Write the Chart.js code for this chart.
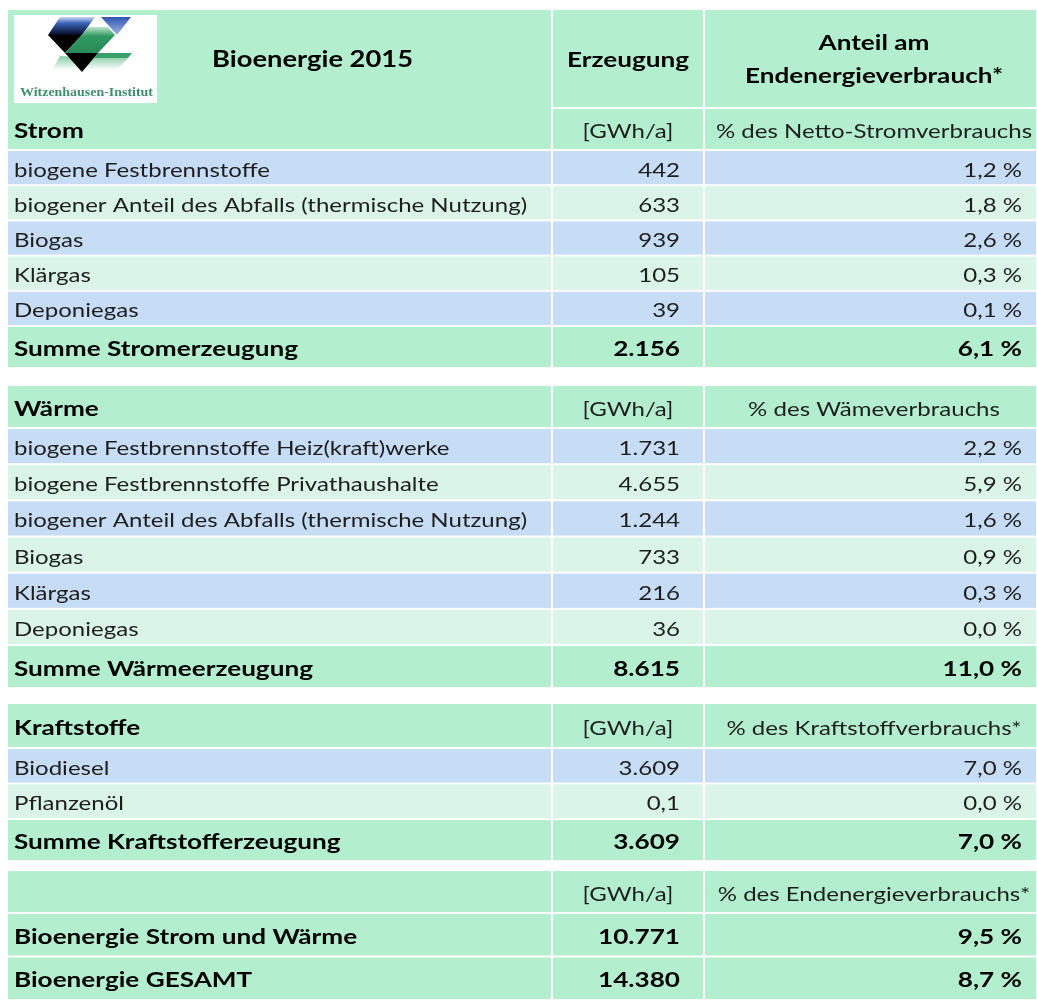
<!DOCTYPE html>
<html>
<head>
<meta charset="utf-8">
<script src="https://cdn.jsdelivr.net/npm/chart.js@4.4.0/dist/chart.umd.min.js"></script>
<style>
  html, body { margin: 0; padding: 0; background: #fff; }
  canvas { display: block; }
</style>
</head>
<body>
<canvas id="myChart" width="1037" height="1000"></canvas>
<script>
// --- data ---
var title = "Bioenergie 2015";
var colHeads = ["Erzeugung", "Anteil am", "Endenergieverbrauch*"];
var unitGWh = "[GWh/a]";

var stromLabels = ["biogene Festbrennstoffe", "biogener Anteil des Abfalls (thermische Nutzung)", "Biogas", "Klärgas", "Deponiegas"];
var stromGWh = [442, 633, 939, 105, 39];
var stromShare = [1.2, 1.8, 2.6, 0.3, 0.1];

var waermeLabels = ["biogene Festbrennstoffe Heiz(kraft)werke", "biogene Festbrennstoffe Privathaushalte", "biogener Anteil des Abfalls (thermische Nutzung)", "Biogas", "Klärgas", "Deponiegas"];
var waermeGWh = [1731, 4655, 1244, 733, 216, 36];
var waermeShare = [2.2, 5.9, 1.6, 0.9, 0.3, 0.0];

var kraftLabels = ["Biodiesel", "Pflanzenöl"];
var kraftGWh = [3609, 0.1];
var kraftShare = [7.0, 0.0];

var sectionTitles = ["Strom", "Wärme", "Kraftstoffe", ""];
var sectionUnits = ["% des Netto-Stromverbrauchs", "% des Wämeverbrauchs", "% des Kraftstoffverbrauchs*", "% des Endenergieverbrauchs*"];
var sumLabels = ["Summe Stromerzeugung", "Summe Wärmeerzeugung", "Summe Kraftstofferzeugung"];
var sumGWh = [2156, 8615, 3609];
var sumShare = [6.1, 11.0, 7.0];

var totalLabels = ["Bioenergie Strom und Wärme", "Bioenergie GESAMT"];
var totalGWh = [10771, 14380];
var totalShare = [9.5, 8.7];

// --- layout / style ---
var GREEN = "#b3efcf";
var BLUE = "#c7dcf5";
var LIGHT = "#daf5e7";
var colEdges = [8, 552, 704, 1036];
var tableTop = 10;
var headerBottom = 108;
var sectionBox = [
  { top: 108, bottom: 368, titleH: 42, sumH: 42 },
  { top: 385, bottom: 688, titleH: 43, sumH: 43 },
  { top: 703, bottom: 861, titleH: 45, sumH: 42 },
  { top: 870, bottom: 1000, titleH: 43, sumH: 0 }
];
var FONT = "Lato, 'Open Sans', sans-serif";

// build table rows from the arrays
var labelSets = [stromLabels, waermeLabels, kraftLabels, totalLabels];
var gwhSets = [stromGWh, waermeGWh, kraftGWh, totalGWh];
var shareSets = [stromShare, waermeShare, kraftShare, totalShare];

var rows = [];
for (var s = 0; s < 4; s++) {
  var box = sectionBox[s];
  rows.push({ kind: "title", y0: box.top, y1: box.top + box.titleH, label: sectionTitles[s], unit: sectionUnits[s], first: s === 0 });
  var n = labelSets[s].length;
  var h = (box.bottom - box.sumH - box.top - box.titleH) / n;
  for (var i = 0; i < n; i++) {
    var y0 = box.top + box.titleH + i * h;
    rows.push({
      kind: s === 3 ? "sum" : "data",
      fill: s === 3 ? GREEN : (i % 2 === 0 ? BLUE : LIGHT),
      y0: y0, y1: y0 + h,
      label: labelSets[s][i], gwh: gwhSets[s][i], share: shareSets[s][i]
    });
  }
  if (s < 3) {
    rows.push({ kind: "sum", fill: GREEN, y0: box.bottom - box.sumH, y1: box.bottom, label: sumLabels[s], gwh: sumGWh[s], share: sumShare[s] });
  }
}

function fmtNum(v) {
  if (v < 1) return String(v).replace(".", ",");
  return String(v).replace(/\B(?=(\d{3})+(?!\d))/g, ".");
}
function fmtPct(v) {
  return v.toFixed(1).replace(".", ",") + " %";
}

var valueRows = rows.filter(function (r) { return r.gwh !== undefined; });

var gwhPoints = valueRows.map(function (r) { return { x: 680, y: (r.y0 + r.y1) / 2, text: fmtNum(r.gwh), bold: r.kind === "sum" }; });
var sharePoints = valueRows.map(function (r) { return { x: 1022, y: (r.y0 + r.y1) / 2, text: fmtPct(r.share), bold: r.kind === "sum" }; });

// stretched text helper
function drawText(ctx, text, x, y, font, sx, align, color) {
  ctx.save();
  ctx.font = font;
  ctx.fillStyle = color;
  ctx.textAlign = align;
  ctx.textBaseline = "alphabetic";
  ctx.translate(x, y);
  ctx.scale(sx, 1);
  ctx.fillText(text, 0, 0);
  ctx.restore();
}

function poly(ctx, xs, ys, pts, fill) {
  ctx.beginPath();
  pts.forEach(function (p, k) {
    var px = xs.getPixelForValue(p[0]), py = ys.getPixelForValue(p[1]);
    if (k === 0) ctx.moveTo(px, py); else ctx.lineTo(px, py);
  });
  ctx.closePath();
  ctx.fillStyle = fill;
  ctx.fill();
}

var tablePlugin = {
  id: "tablePlugin",
  beforeDatasetsDraw: function (chart) {
    var ctx = chart.ctx, xs = chart.scales.x, ys = chart.scales.y;
    function cell(c, y0, y1, fill) {
      var l = xs.getPixelForValue(colEdges[c]) + (c > 0 ? 1 : 0);
      var r = xs.getPixelForValue(colEdges[c + 1]) - (c < 2 ? 1 : 0);
      var t = ys.getPixelForValue(y0) + 1, b = ys.getPixelForValue(y1) - 1;
      ctx.fillStyle = fill;
      ctx.fillRect(l, t, r - l, b - t);
    }
    ctx.save();
    // header
    cell(0, tableTop - 1, rows[0].y1, GREEN);
    cell(1, tableTop - 1, headerBottom, GREEN);
    cell(2, tableTop - 1, headerBottom, GREEN);
    rows.forEach(function (r) {
      var fill = r.kind === "title" ? GREEN : r.fill;
      for (var c = 0; c < 3; c++) {
        if (r.first && c === 0) continue;
        cell(c, r.y0, r.y1, fill);
      }
    });
    // logo
    ctx.fillStyle = "#ffffff";
    ctx.fillRect(xs.getPixelForValue(14), ys.getPixelForValue(15), 143, 88);
    var gBlue = ctx.createLinearGradient(0, ys.getPixelForValue(17), 0, ys.getPixelForValue(35));
    gBlue.addColorStop(0, "#c8d6f0");
    gBlue.addColorStop(0.35, "#3a62b8");
    gBlue.addColorStop(1, "#050a20");
    poly(ctx, xs, ys, [[60, 17], [95, 17], [82, 35], [48, 35]], gBlue);
    var gBlueR = ctx.createLinearGradient(0, ys.getPixelForValue(17), 0, ys.getPixelForValue(35));
    gBlueR.addColorStop(0, "#2f56b0");
    gBlueR.addColorStop(1, "#9fb6e6");
    poly(ctx, xs, ys, [[101, 17], [131, 17], [117, 35]], gBlueR);
    poly(ctx, xs, ys, [[48, 35], [82, 35], [65, 53]], "#000000");
    var gGreen = ctx.createLinearGradient(0, ys.getPixelForValue(27), 0, ys.getPixelForValue(53));
    gGreen.addColorStop(0, "#bfe6cf");
    gGreen.addColorStop(0.35, "#2f9a60");
    gGreen.addColorStop(1, "#2a8a58");
    poly(ctx, xs, ys, [[88, 27], [108, 27], [115, 35], [98, 53], [65, 53], [82, 35]], gGreen);
    poly(ctx, xs, ys, [[98, 53], [132, 53], [128, 58], [94, 58]], "#3aa06a");
    var gLow = ctx.createLinearGradient(0, ys.getPixelForValue(55), 0, ys.getPixelForValue(70));
    gLow.addColorStop(0, "#7cc79c");
    gLow.addColorStop(1, "#ffffff");
    poly(ctx, xs, ys, [[60, 56], [94, 58], [128, 58], [117, 70], [52, 70]], gLow);
    poly(ctx, xs, ys, [[65, 53], [98, 53], [82, 72]], "#000000");
    ctx.save();
    ctx.font = "bold 13px 'Liberation Serif', serif";
    var sxLogo = 133 / ctx.measureText("Witzenhausen-Institut").width;
    ctx.restore();
    drawText(ctx, "Witzenhausen-Institut", xs.getPixelForValue(20), ys.getPixelForValue(96), "bold 13px 'Liberation Serif', serif", sxLogo, "left", "#3f8f6f");
    ctx.restore();
  },
  afterDatasetsDraw: function (chart) {
    var ctx = chart.ctx, xs = chart.scales.x, ys = chart.scales.y;
    var fN = "20px " + FONT, fB = "bold 20px " + FONT, fT = "bold 23px " + FONT;
    ctx.save();
    ctx.font = fN; var sxN = 256 / ctx.measureText("biogene Festbrennstoffe").width;
    ctx.font = fB; var sxB = 284 / ctx.measureText("Summe Stromerzeugung").width;
    ctx.font = fT; var sxT = 201 / ctx.measureText(title).width;
    ctx.restore();
    var dark = "#1e1e1e", black = "#000000";
    function X(v) { return xs.getPixelForValue(v); }
    function Y(v) { return ys.getPixelForValue(v); }

    // header
    drawText(ctx, title, X(212), Y(67), fT, sxT, "left", black);
    drawText(ctx, colHeads[0], X(628), Y(67), fB, sxB, "center", black);
    drawText(ctx, colHeads[1], X(874), Y(50), fB, sxB, "center", black);
    drawText(ctx, colHeads[2], X(874), Y(83), fB, sxB, "center", black);

    // labels column
    rows.forEach(function (r) {
      var base = Y((r.y0 + r.y1) / 2) + 9;
      if (r.kind === "title") {
        if (r.label) drawText(ctx, r.label, X(14), base, fB, sxB, "left", black);
        drawText(ctx, unitGWh, X(628), base, fN, sxN, "center", dark);
        drawText(ctx, r.unit, X(874), base, fN, sxN, "center", dark);
      } else {
        drawText(ctx, r.label, X(14), base, r.kind === "sum" ? fB : fN, r.kind === "sum" ? sxB : sxN, "left", r.kind === "sum" ? black : dark);
      }
    });

    // value columns, positioned by the datasets' points
    chart.data.datasets.forEach(function (ds, di) {
      var meta = chart.getDatasetMeta(di);
      meta.data.forEach(function (pt, k) {
        var d = ds.data[k];
        drawText(ctx, d.text, pt.x, pt.y + 9, d.bold ? fB : fN, d.bold ? sxB : sxN, "right", d.bold ? black : dark);
      });
    });
  }
};

new Chart("myChart", {
  type: "scatter",
  data: {
    datasets: [
      { label: "Erzeugung [GWh/a]", data: gwhPoints, pointRadius: 0, pointHoverRadius: 0 },
      { label: "Anteil am Endenergieverbrauch", data: sharePoints, pointRadius: 0, pointHoverRadius: 0 }
    ]
  },
  options: {
    responsive: false,
    animation: false,
    events: [],
    layout: { padding: 0 },
    plugins: { legend: { display: false }, tooltip: { enabled: false } },
    scales: {
      x: { type: "linear", min: 0, max: 1037, display: false },
      y: { type: "linear", min: 0, max: 1000, reverse: true, display: false }
    }
  },
  plugins: [tablePlugin]
});
</script>
</body>
</html>
